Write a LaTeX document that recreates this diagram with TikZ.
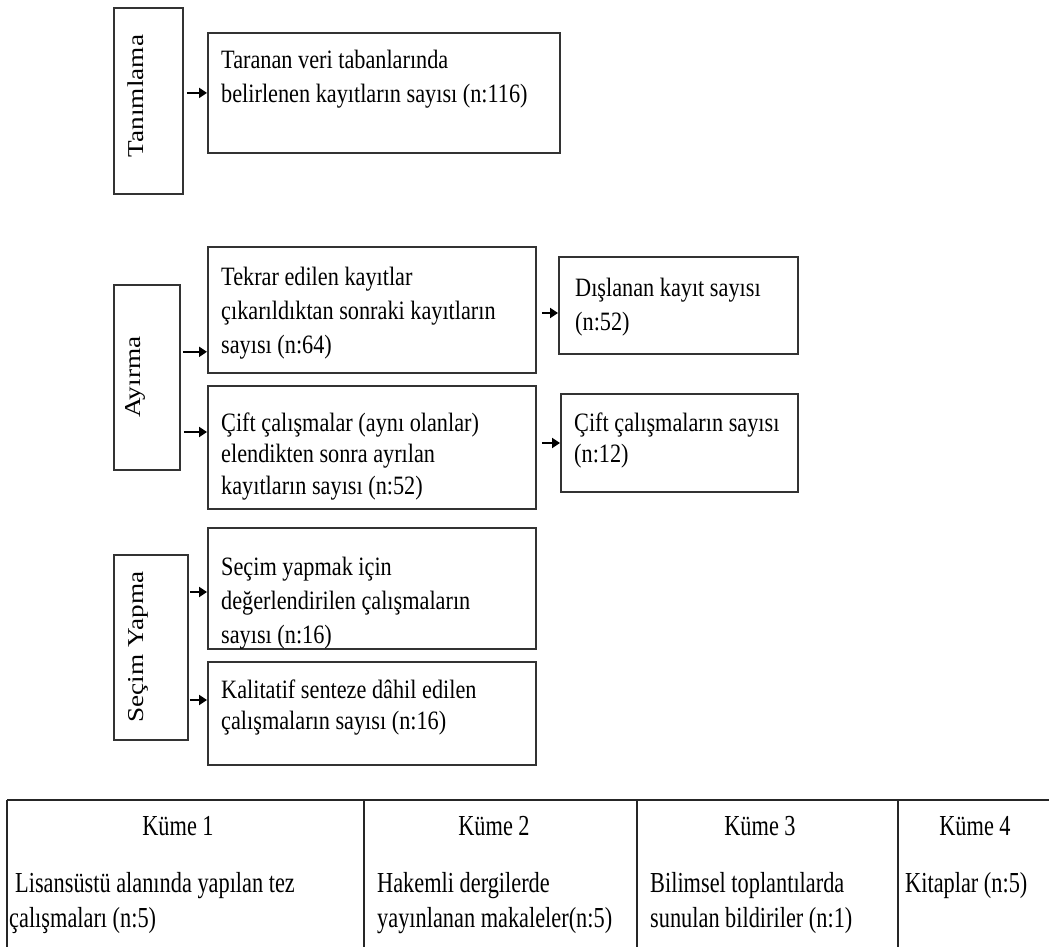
\documentclass[tikz,border=0pt]{standalone}
\usepackage{fontspec}
\setmainfont{Liberation Serif}
\newfontfamily\boxfont[FakeStretch=0.84]{Liberation Serif}
\newfontfamily\rotfont[FakeStretch=1.2]{Liberation Serif}
\newfontfamily\tabfont[FakeStretch=0.77]{Liberation Serif}
\usetikzlibrary{arrows.meta}
\newcommand\fstrut{\rule{0pt}{26pt}}
\newcommand\tstrut{\rule{0pt}{28pt}}
\begin{document}
\begin{tikzpicture}[x=1pt,y=-1pt,
  box/.style={draw=black!80,line width=1.8pt,anchor=north west,inner sep=0pt},
  txt/.style={anchor=north west,inner sep=0pt,align=left,font=\fontsize{26.5}{34}\selectfont\boxfont},
  txttight/.style={txt,font=\fontsize{26.5}{31.5}\selectfont\boxfont},
  vlab/.style={rotate=90,inner sep=0pt,font=\fontsize{22.7}{27}\selectfont\rotfont},
  arr/.style={line width=2.6pt,-{Triangle[length=8pt,width=10pt]}},
  tline/.style={draw=black!85,line width=1.6pt},
  thead/.style={anchor=base,inner sep=0pt,font=\fontsize{29}{35}\selectfont\tabfont},
  tbody/.style={anchor=north west,inner sep=0pt,align=left,font=\fontsize{29}{35}\selectfont\tabfont}]
\useasboundingbox (0,0) rectangle (1049,947);

% stage boxes
\node[box,minimum width=69pt,minimum height=186pt] (tan) at (113,7) {};
\node[vlab] (tanl) at (136,96) {Tanımlama};
\node[box,minimum width=66pt,minimum height=185pt] (ayr) at (113,284) {};
\node[vlab] (ayrl) at (135,377) {Ayırma};
\node[box,minimum width=74pt,minimum height=185pt] (sy) at (113,554) {};
\node[vlab] (syl) at (138,647) {Seçim Yapma};

% content boxes
\node[box,minimum width=352pt,minimum height=120pt] (tar) at (207,32) {};
\node[txt] (tart) at (221,42) {\fstrut Taranan veri tabanlarında\\belirlenen kayıtların sayısı (n:116)};

\node[box,minimum width=328pt,minimum height=126pt] (tek) at (207,246) {};
\node[txt] (tekt) at (221,259) {\fstrut Tekrar edilen kayıtlar\\çıkarıldıktan sonraki kayıtların\\sayısı (n:64)};

\node[box,minimum width=239pt,minimum height=97pt] (dis) at (558,256) {};
\node[txt] (dist) at (575,270) {\fstrut Dışlanan kayıt sayısı\\(n:52)};

\node[box,minimum width=328pt,minimum height=123pt] (cift) at (207,385) {};
\node[txttight] (ciftt) at (221,405) {\fstrut Çift çalışmalar (aynı olanlar)\\elendikten sonra ayrılan\\kayıtların sayısı (n:52)};

\node[box,minimum width=237pt,minimum height=98pt] (cc) at (560,393) {};
\node[txttight] (cct) at (574,405) {\fstrut Çift çalışmaların sayısı\\(n:12)};

\node[box,minimum width=328pt,minimum height=121pt] (sec) at (207,527) {};
\node[txt] (sect) at (221,549) {\fstrut Seçim yapmak için\\değerlendirilen çalışmaların\\sayısı (n:16)};

\node[box,minimum width=328pt,minimum height=103pt] (kal) at (207,661) {};
\node[txttight] (kalt) at (221,672) {\fstrut Kalitatif senteze dâhil edilen\\çalışmaların sayısı (n:16)};

% arrow end points
\coordinate (e1) at (tar.west);
\coordinate (e2) at ([yshift=22pt]tek.south west);
\coordinate (e3) at ([yshift=-47pt]cift.north west);
\coordinate (e4) at ([yshift=-57pt]dis.north west);
\coordinate (e5) at ([yshift=-50pt]cc.north west);
\coordinate (e6) at ([yshift=-65pt]sec.north west);
\coordinate (e7) at ([yshift=-39pt]kal.north west);

\draw[arr] (tan.east |- e1) ++(3,0) -- (e1);
\draw[arr] (ayr.east |- e2) ++(2,0) -- (e2);
\draw[arr] (ayr.east |- e3) ++(3,0) -- (e3);
\draw[arr] (tek.east |- e4) ++(5,0) -- (e4);
\draw[arr] (cift.east |- e5) ++(5,0) -- (e5);
\draw[arr] (sy.east |- e6) ++(1,0) -- (e6);
\draw[arr] (sy.east |- e7) ++(1,0) -- (e7);

% table
\draw[tline,line width=2.2pt] (7,800) -- (1049,800);
\draw[tline] (7,800) -- (7,947);
\draw[tline] (364,800) -- (364,947);
\draw[tline] (637,800) -- (637,947);
\draw[tline] (898,800) -- (898,947);

\node[thead] (k1) at (178,835) {Küme 1};
\node[thead] (k2) at (494,835) {Küme 2};
\node[thead] (k3) at (760,835) {Küme 3};
\node[thead] (k4) at (975,835) {Küme 4};

\node[tbody] (b1) at (9,864) {\tstrut\hspace{6pt}Lisansüstü alanında yapılan tez\\çalışmaları (n:5)};
\node[tbody] (b2) at (377,864) {\tstrut Hakemli dergilerde\\yayınlanan makaleler(n:5)};
\node[tbody] (b3) at (650,864) {\tstrut Bilimsel toplantılarda\\sunulan bildiriler (n:1)};
\node[tbody] (b4) at (905,864) {\tstrut Kitaplar (n:5)};
\end{tikzpicture}
\end{document}
